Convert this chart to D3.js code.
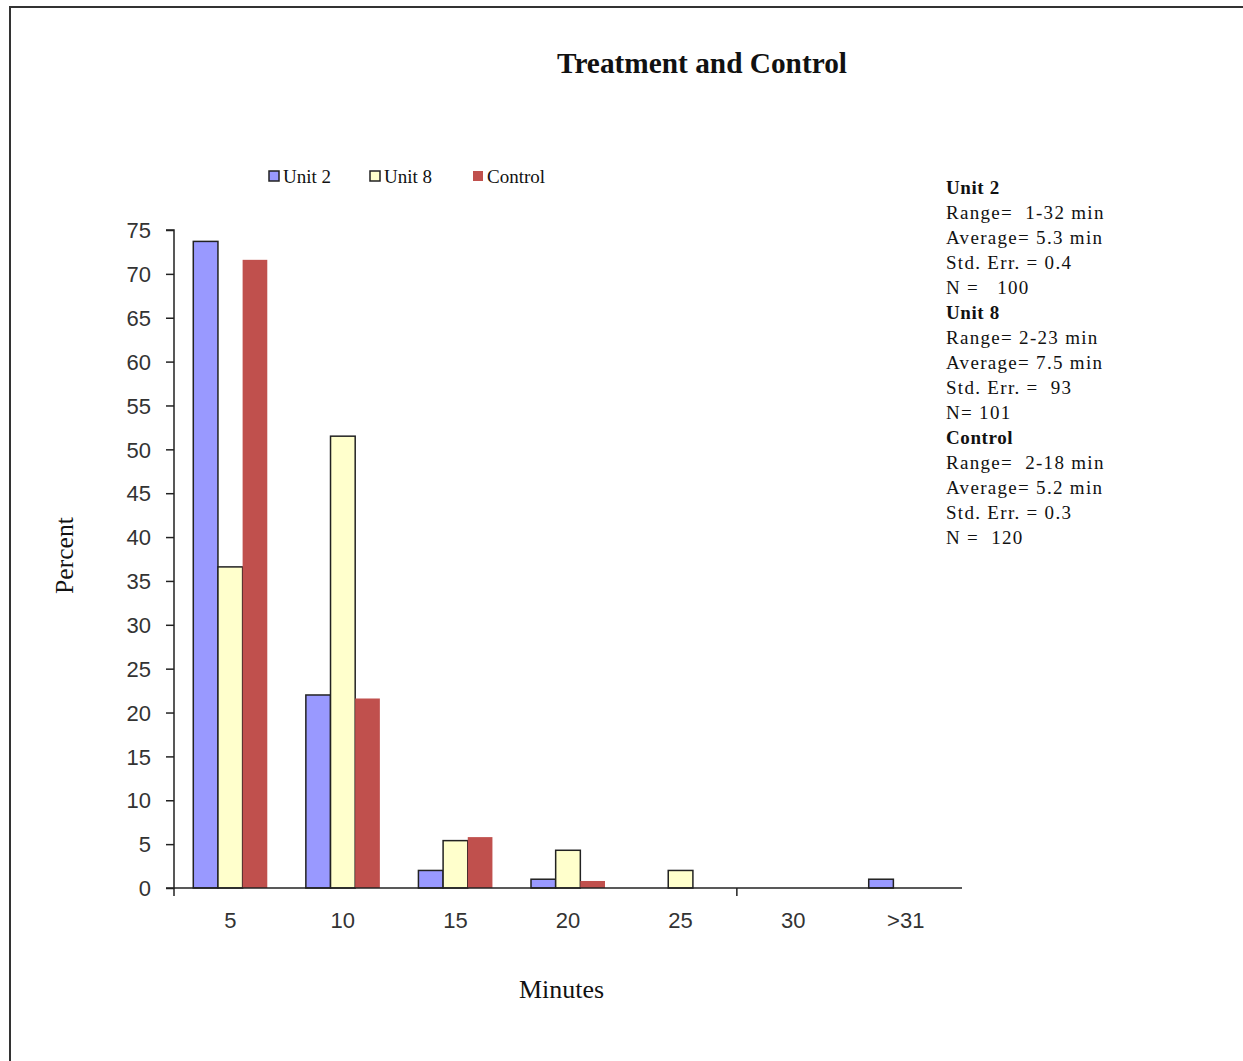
<!DOCTYPE html>
<html>
<head>
<meta charset="utf-8">
<script src="https://cdn.jsdelivr.net/npm/d3@7/dist/d3.min.js"></script>
<style>
  html, body { margin: 0; padding: 0; background: #fff; }
  svg { display: block; font-family: "Liberation Serif", "Times New Roman", serif; }
</style>
</head>
<body>
<svg id="chart" width="1243" height="1061"></svg>
<script>
// Duration bins (minutes) and the share of cases (%) falling in each bin
const categories = ["5", "10", "15", "20", "25", "30", ">31"];
const seriesNames = ["Unit 2", "Unit 8", "Control"];
const unit2 = [73.7, 22.0, 2.0, 1.0, 0, 0, 1.0];
const unit8 = [36.6, 51.5, 5.4, 4.3, 2.0, 0, 0];
const control = [71.6, 21.6, 5.8, 0.8, 0, 0, 0];
const yTicks = [0, 5, 10, 15, 20, 25, 30, 35, 40, 45, 50, 55, 60, 65, 70, 75];

// Summary statistics shown beside the plot
const statsBlocks = [
  { title: "Unit 2", lines: ["Range=  1-32 min", "Average= 5.3 min", "Std. Err. = 0.4", "N =   100"] },
  { title: "Unit 8", lines: ["Range= 2-23 min", "Average= 7.5 min", "Std. Err. =  93", "N= 101"] },
  { title: "Control", lines: ["Range=  2-18 min", "Average= 5.2 min", "Std. Err. = 0.3", "N =  120"] }
];

const colors = ["#9999FF", "#FFFFCC", "#C0504D"];
const strokes = ["#222", "#222", "none"];
const seriesValues = [unit2, unit8, control];
const tickFont = "'Liberation Sans', Arial, sans-serif";

const svg = d3.select("#chart");

// Outer frame
svg.append("path")
  .attr("d", "M10,1061 V7 H1243")
  .attr("fill", "none")
  .attr("stroke", "#333")
  .attr("stroke-width", 2);

const plot = { left: 174, right: 962, top: 230, bottom: 888 };

const x0 = d3.scaleBand().domain(categories).range([plot.left, plot.right]).paddingInner(0).paddingOuter(0);
const groupWidth = 74;
const x1 = d3.scaleBand().domain(seriesNames).range([0, groupWidth]).padding(0);
const y = d3.scaleLinear().domain([0, 75]).range([plot.bottom, plot.top]);

// Bars
const rows = categories.map((c, i) => ({ cat: c, vals: seriesValues.map((s, k) => ({ name: seriesNames[k], k, v: s[i] })) }));
const groups = svg.append("g").selectAll("g").data(rows).join("g")
  .attr("transform", d => `translate(${x0(d.cat) + (x0.bandwidth() - groupWidth) / 2},0)`);
groups.selectAll("rect").data(d => d.vals.filter(e => e.v > 0)).join("rect")
  .attr("x", d => x1(d.name))
  .attr("y", d => y(d.v))
  .attr("width", x1.bandwidth())
  .attr("height", d => y(0) - y(d.v))
  .attr("fill", d => colors[d.k])
  .attr("stroke", d => strokes[d.k])
  .attr("stroke-width", 1.5);

// Y axis
const yAxis = d3.axisLeft(y).tickValues(yTicks).tickSize(8).tickPadding(15);
const gy = svg.append("g").attr("transform", `translate(${plot.left},0)`).call(yAxis);
gy.select(".domain").attr("stroke", "#222").attr("stroke-width", 1.5).attr("d", `M-8,${plot.top}H0V${plot.bottom}H-8`);
gy.selectAll(".tick line").attr("stroke", "#222").attr("stroke-width", 1.5);
gy.selectAll(".tick text")
  .attr("font-family", tickFont)
  .attr("font-size", 22)
  .attr("fill", "#333")
  .attr("dy", "0.35em");

// X axis: baseline with tick marks at the group boundaries
const gx = svg.append("g").attr("transform", `translate(0,${plot.bottom})`);
gx.append("line")
  .attr("x1", plot.left).attr("x2", plot.right)
  .attr("stroke", "#222").attr("stroke-width", 1.5);
const boundaryTicks = [0, 5];
gx.selectAll("line.bt").data(boundaryTicks).join("line")
  .attr("class", "bt")
  .attr("x1", d => plot.left + d * x0.step()).attr("x2", d => plot.left + d * x0.step())
  .attr("y1", 0).attr("y2", 8)
  .attr("stroke", "#222").attr("stroke-width", 1.5);
gx.selectAll("text").data(categories).join("text")
  .attr("x", d => x0(d) + x0.bandwidth() / 2)
  .attr("y", 40)
  .attr("text-anchor", "middle")
  .attr("font-family", tickFont)
  .attr("font-size", 22)
  .attr("fill", "#333")
  .text(d => d);

// Title
svg.append("text")
  .attr("x", 557).attr("y", 73)
  .attr("font-size", 29)
  .attr("font-weight", "bold")
  .attr("fill", "#111")
  .attr("textLength", 290)
  .attr("lengthAdjust", "spacingAndGlyphs")
  .text("Treatment and Control");

// Axis titles
svg.append("text")
  .attr("x", 519).attr("y", 998)
  .attr("font-size", 25)
  .attr("fill", "#111")
  .attr("textLength", 85)
  .attr("lengthAdjust", "spacingAndGlyphs")
  .text("Minutes");
svg.append("text")
  .attr("transform", "translate(73,594) rotate(-90)")
  .attr("font-size", 25)
  .attr("fill", "#111")
  .attr("textLength", 77)
  .attr("lengthAdjust", "spacingAndGlyphs")
  .text("Percent");

// Legend
const legendX = [269, 370, 473];
const legend = svg.append("g").selectAll("g").data(seriesNames).join("g")
  .attr("transform", (d, i) => `translate(${legendX[i]},171)`);
legend.append("rect")
  .attr("width", 10).attr("height", 10)
  .attr("fill", (d, i) => colors[i])
  .attr("stroke", (d, i) => i < 2 ? "#222" : "none")
  .attr("stroke-width", 1.5);
legend.append("text")
  .attr("x", 14).attr("y", 12)
  .attr("font-size", 19)
  .attr("fill", "#111")
  .text(d => d);

// Statistics panel
const stats = svg.append("g").attr("transform", "translate(946,194)");
let line = 0;
statsBlocks.forEach(b => {
  stats.append("text").attr("x", 0).attr("y", line * 25)
    .attr("font-size", 19).attr("font-weight", "bold").attr("fill", "#111")
    .attr("letter-spacing", 0.6).text(b.title);
  line++;
  b.lines.forEach(t => {
    stats.append("text").attr("x", 0).attr("y", line * 25)
      .attr("font-size", 19).attr("fill", "#111")
      .attr("letter-spacing", 1.3)
      .style("white-space", "pre").text(t);
    line++;
  });
});
</script>
</body>
</html>
